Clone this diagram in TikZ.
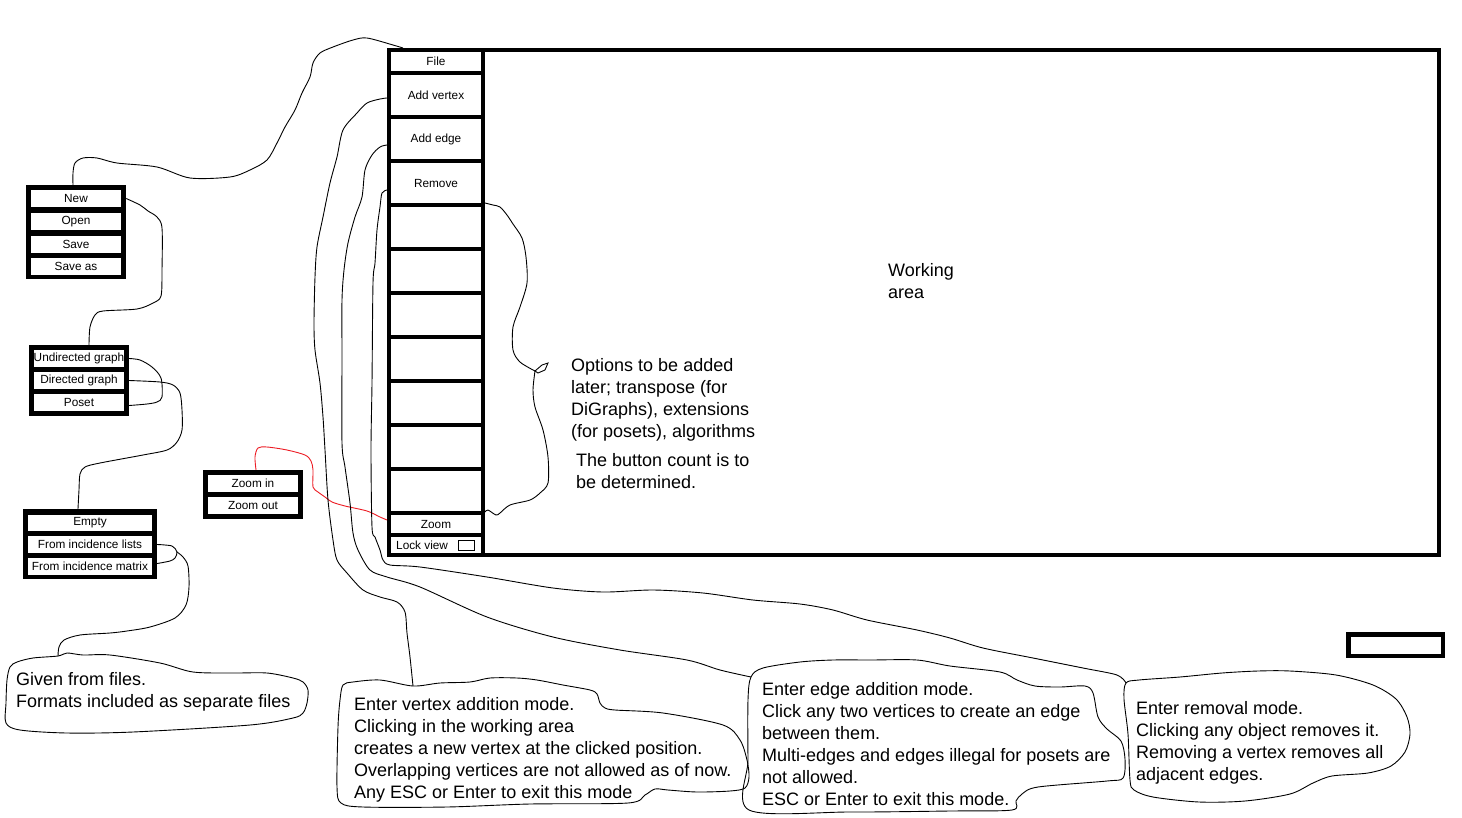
\documentclass[tikz,border=0pt]{standalone}
\usepackage{fontspec}
\setmainfont{Liberation Sans}
\definecolor{paintred}{RGB}{237,28,36}
\begin{document}
\begin{tikzpicture}[x=1pt,y=-1pt,
  btn/.style={draw=black, line width=4pt, minimum width=94pt, inner sep=0pt, font=\fontsize{11.8}{13}\selectfont},
  menuframe/.style={fill=black, inner sep=0pt},
  item/.style={fill=white, inner sep=0pt, minimum height=17pt, font=\fontsize{11.8}{13}\selectfont},
  wire/.style={draw=black, line width=0.9pt},
  redwire/.style={draw=paintred, line width=0.9pt},
  bigtext/.style={font=\fontsize{18}{22}\selectfont, align=left, inner sep=0pt, anchor=base west},
  bubble/.style={draw=black, line width=0.9pt},
  smallbox/.style={draw=black, line width=0.9pt, inner sep=0pt, minimum width=16pt, minimum height=10pt},
]
\useasboundingbox (0,0) rectangle (1462,817);
\fill[white] (0,0) rectangle (1462,817);

% ---------- toolbar and working area ----------
\node[draw=black, line width=4pt, minimum width=956pt, minimum height=505pt, inner sep=0pt] (work) at (961,302.5) {};
\node[btn, minimum height=23pt] (file) at (436,61.5) {File};
\node[btn, minimum height=44pt] (addv) at (436,95) {Add vertex};
\node[btn, minimum height=44pt] (adde) at (436,139) {Add edge};
\node[btn, minimum height=44pt] (remove) at (436,183) {Remove};
\node[btn, minimum height=44pt] (b1) at (436,227) {};
\node[btn, minimum height=44pt] (b2) at (436,271) {};
\node[btn, minimum height=44pt] (b3) at (436,315) {};
\node[btn, minimum height=44pt] (b4) at (436,359) {};
\node[btn, minimum height=44pt] (b5) at (436,403) {};
\node[btn, minimum height=44pt] (b6) at (436,447) {};
\node[btn, minimum height=44pt] (b7) at (436,491) {};
\node[btn, minimum height=22pt] (zoombtn) at (436,524) {Zoom};
\node[btn, minimum height=20pt] (lock) at (436,545) {};
\node[inner sep=0pt, anchor=base west, font=\fontsize{11.8}{13}\selectfont] (locktext) at (396,549) {Lock view};
\node[smallbox] (lockbox) at (466,545.5) {};

% multi-line nodes: base anchor = baseline of last line
\node[bigtext] (worktext) at (888,298) {Working\\area};

% ---------- left menus ----------
\node[menuframe, minimum width=100pt, minimum height=94pt] (filemenu) at (76,232) {};
\node[item, minimum width=90pt] (new) at (76,198.5) {New};
\node[item, minimum width=90pt] (open) at (76,221.5) {Open};
\node[item, minimum width=90pt] (save) at (76,244.5) {Save};
\node[item, minimum width=90pt] (saveas) at (76,266.5) {Save as};

\node[menuframe, minimum width=100pt, minimum height=71pt] (graphmenu) at (79,380.5) {};
\node[item, minimum width=90pt] (undir) at (79,358.5) {Undirected graph};
\node[item, minimum width=90pt] (dir) at (79,380.5) {Directed graph};
\node[item, minimum width=90pt] (poset) at (79,402.5) {Poset};

\node[menuframe, minimum width=134pt, minimum height=70pt] (datamenu) at (90,544) {};
\node[item, minimum width=124pt, minimum height=16pt] (empty) at (90,523) {Empty};
\node[item, minimum width=124pt] (lists) at (90,544.5) {From incidence lists};
\node[item, minimum width=124pt] (matrix) at (90,566.5) {From incidence matrix};

\node[menuframe, minimum width=100pt, minimum height=49pt] (zoommenu) at (253,494.5) {};
\node[item, minimum width=90pt] (zoomin) at (253,483.5) {Zoom in};
\node[item, minimum width=90pt] (zoomout) at (253,505.5) {Zoom out};

\node[draw=black, line width=4.5pt, minimum width=94.5pt, minimum height=21.5pt, inner sep=0pt] (spare) at (1395.5,645) {};

% ---------- texts ----------
\node[bigtext] (opttext) at (571,437) {Options to be added\\later; transpose (for\\DiGraphs), extensions\\(for posets), algorithms};
\node[bigtext] (counttext) at (576,488) {The button count is to\\be determined.};

% ---------- bubbles ----------
\coordinate (g1) at (58,656);
\draw[bubble] plot[smooth cycle, tension=0.5] coordinates {(g1) (67,653) (83,655) (110,655) (160,663) (193,672) (233,673) (267,673) (293,678) (303,682) (308,690) (307,703) (303,713) (293,718) (250,725) (133,732) (67,733) (20,730) (6,723) (6,703) (7,680) (10,667) (17,662) (33,658)};
\node[bigtext] (giventext) at (16,707) {Given from files.\\Formats included as separate files};

\coordinate (g2) at (413,686);
\draw[bubble] plot[smooth cycle, tension=0.5] coordinates {(343,685) (353,682) (380,680) (g2) (440,683) (470,682) (490,678) (517,678) (537,680) (563,685) (590,690) (597,694) (600,703) (605,708) (615,710) (663,713) (723,725) (740,740) (747,760) (749,777) (745,788) (730,791) (697,792) (668,790) (655,789) (645,795) (628,803) (530,804) (447,807) (363,807) (341,803) (337,787) (338,727) (340,700)};
\node[bigtext] (vertextext) at (354,798) {Enter vertex addition mode.\\Clicking in the working area\\creates a new vertex at the clicked position.\\Overlapping vertices are not allowed as of now.\\Any ESC or Enter to exit this mode};

\coordinate (g3) at (751,677);
\draw[bubble] plot[smooth cycle, tension=0.5] coordinates {(g3) (763,668) (800,662) (833,660) (870,660) (917,660) (950,666) (1000,672) (1017,680) (1035,686) (1060,687) (1085,686) (1093,693) (1098,717) (1107,729) (1121,741) (1125,759) (1123,778) (1107,781) (1038,787) (1022,794) (1016,801) (1012,810) (950,811) (850,812) (749,810) (748,760) (748,700)};
\node[bigtext] (edgetext) at (762,805) {Enter edge addition mode.\\Click any two vertices to create an edge\\between them.\\Multi-edges and edges illegal for posets are\\not allowed.\\ESC or Enter to exit this mode.};

\coordinate (g4) at (1126,683);
\draw[bubble] plot[smooth cycle, tension=0.5] coordinates {(g4) (1139,680) (1180,677) (1222,673) (1258,671) (1290,671) (1336,675) (1373,685) (1396,699) (1407,717) (1410,734) (1405,752) (1391,766) (1368,773) (1332,776) (1313,783) (1290,794) (1245,801) (1199,802) (1153,797) (1134,790) (1130,780) (1128,734) (1124,699)};
\node[bigtext] (removetext) at (1136,780) {Enter removal mode.\\Clicking any object removes it.\\Removing a vertex removes all\\adjacent edges.};

% ---------- connectors ----------
\draw[wire] plot[smooth, tension=0.5] coordinates {([xshift=16pt]file.north west) (393,45) (367,38) (353,40) (333,47) (320,53) (313,63) (310,77) (302,93) (295,110) (285,127) (277,143) (267,160) (250,170) (230,177) (190,178) (157,167) (117,163) (97,158) (83,158) (75,163) (73,173) ([xshift=-3pt]filemenu.north)};

\draw[wire] plot[smooth, tension=0.5] coordinates {(new.east -| filemenu.east) (140,205) (148,211) (157,217) (162,228) (162,270) (161,296) (153,303) (137,309) (103,311) (95,315) (90,327) ([xshift=10pt]graphmenu.north)};

\draw[wire] plot[smooth, tension=0.5] coordinates {(undir.east -| graphmenu.east) (140,360) (152,367) (161,378) (162,397) (157,402) (147,404) ([yshift=-3pt]poset.east -| graphmenu.east)};

\draw[wire] plot[smooth, tension=0.5] coordinates {(dir.east -| graphmenu.east) (160,382) (173,385) (180,393) (182,410) (182,430) (177,442) (167,450) (143,455) (100,463) (85,467) (80,474) (79,490) ([xshift=-12pt]datamenu.north)};

\coordinate (fork) at (177,552);
\draw[wire] plot[smooth, tension=0.5] coordinates {(lists.east -| datamenu.east) (172,546) (fork) (175,558) (170,561) ([yshift=3pt]matrix.east -| datamenu.east)};
\draw[wire] plot[smooth, tension=0.5] coordinates {(fork) (183,557) (188,566) (189,587) (186,605) (175,618) (150,627) (127,631) (110,633) (80,635) (64,640) (59,647) (g1)};

\draw[redwire] plot[smooth, tension=0.5] coordinates {([xshift=3pt]zoommenu.north) (255,457) (258,448) (267,447) (287,450) (305,455) (311,461) (313,470) (313,487) (318,492) (325,497) (332,502) (345,506) (367,511) (380,517) ([yshift=4pt]zoombtn.west)};

\draw[wire] plot[smooth, tension=0.5] coordinates {([yshift=-3pt]addv.west) (380,99) (367,103) (357,113) (343,130) (337,157) (330,183) (323,217) (317,247) (315,277) (314,323) (315,350) (320,383) (323,417) (325,450) (328,500) (333,540) (337,560) (347,573) (363,590) (380,597) (397,602) (405,612) (407,633) (410,657) (g2)};

\draw[wire] plot[smooth, tension=0.5] coordinates {([yshift=-6pt]adde.west) (380,147) (372,155) (365,170) (362,197) (355,217) (348,243) (344,270) (342,300) (342,357) (342,443) (345,467) (350,503) (353,533) (358,550) (370,570) (387,577) (420,587) (487,617) (553,637) (620,650) (687,660) (720,670) (g3)};

\draw[wire] plot[smooth, tension=0.5] coordinates {([yshift=-7pt]remove.west) (382,193) (380,207) (377,230) (375,263) (373,283) (372,383) (371,450) (372,527) (375,537) (380,550) (383,560) (390,565) (420,567) (487,577) (553,588) (603,592) (653,590) (703,593) (753,600) (800,604) (833,610) (867,620) (917,630) (950,638) (983,648) (1033,658) (1083,668) (1117,675) (g4)};

% options bracket
\coordinate (hook) at (535,371);
\draw[wire] plot[smooth, tension=0.5] coordinates {(b1.north east) (493,205) (500,207) (507,215) (513,224) (522,238) (526,257) (527,283) (520,307) (513,327) (513,350) (520,362) (hook)};
\draw[wire] (hook) -- (542,365) -- (548,363) -- (545,370) -- (538,373) -- cycle;
\draw[wire] plot[smooth, tension=0.5] coordinates {(hook) (533,390) (535,407) (543,430) (548,457) (548,483) (540,493) (530,500) (510,505) (500,513) (496,515) (488,510) ([yshift=3pt]b7.south east)};
\end{tikzpicture}
\end{document}
